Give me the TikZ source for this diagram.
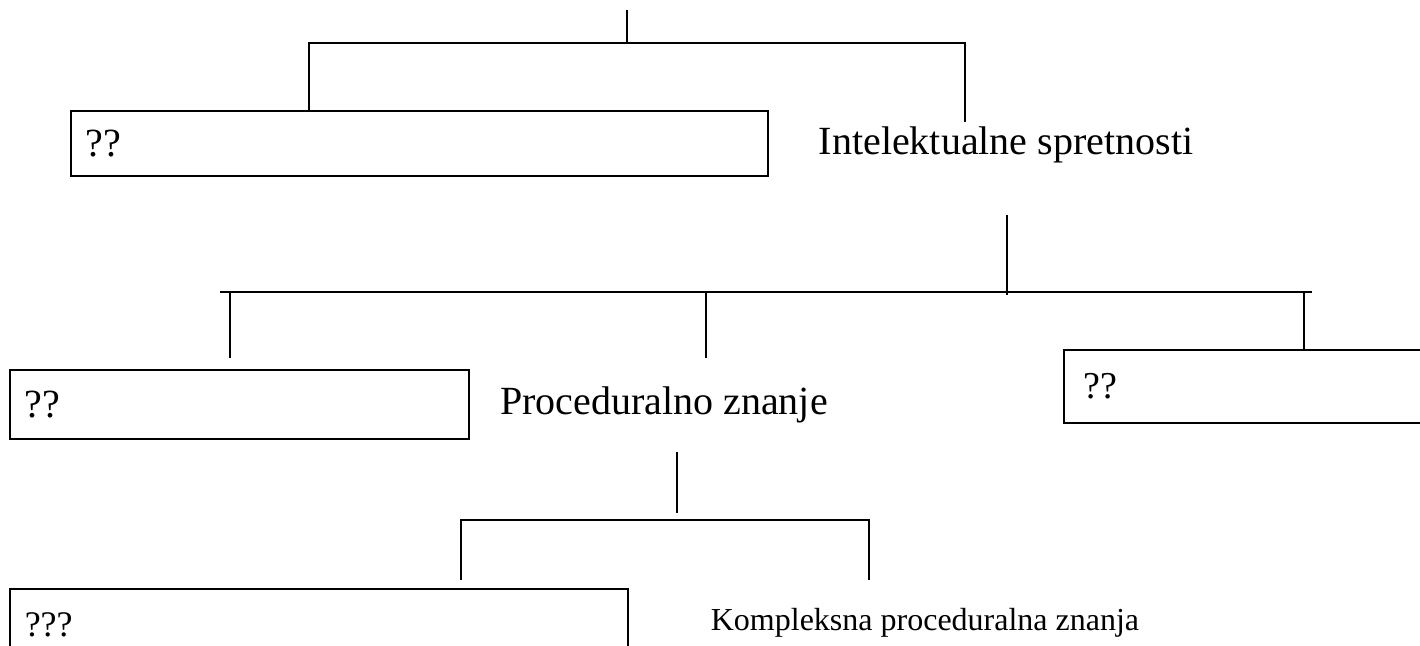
\documentclass[tikz,border=0pt]{standalone}
\usepackage{fontspec}
\setmainfont{Liberation Serif}
\usetikzlibrary{positioning}
\tikzset{
  qbox/.style={
    draw=black,
    line width=1.5pt,
    anchor=north west,
    inner xsep=15pt,
    inner ysep=0pt,
    align=left
  },
  lbl/.style={
    inner sep=0pt,
    anchor=center
  },
  conn/.style={
    line width=1.5pt
  }
}

\begin{document}
\begin{tikzpicture}[x=1pt,y=1pt]
\useasboundingbox (0,0) rectangle (1420,-645);
\clip (0,0) rectangle (1420,-645);

% level 1
\node[qbox, text width=667pt, minimum height=65pt, font=\fontsize{40}{44}\selectfont]
  (qa) at (70,-110) {??};
\node[lbl, font=\fontsize{40}{44}\selectfont] (intel) at (1006,-145) {Intelektualne spretnosti};

\coordinate (t1) at (627,-10);
\coordinate (b1l) at (309,-43);
\coordinate (b1r) at (965,-43);
\coordinate (e1r) at (965,-122);

\draw[conn] (t1) -- (t1 |- b1l);
\draw[conn] (qa.north -| b1l) -- (b1l) -- (b1r) -- (e1r);

% level 2
\node[qbox, text width=429pt, minimum height=69pt, inner xsep=15pt, font=\fontsize{40}{44}\selectfont]
  (qb) at (9,-369) {??};
\node[lbl, font=\fontsize{40}{44}\selectfont] (proc) at (664,-405) {Proceduralno znanje};
\node[qbox, text width=347pt, minimum height=73pt, inner xsep=20pt, font=\fontsize{38}{42}\selectfont]
  (qc) at (1063,-349) {??};

\coordinate (t2) at (1007,-215);
\coordinate (b2l) at (220,-292);
\coordinate (b2r) at (1312,-292);
\coordinate (d2a) at (230,-292);
\coordinate (d2b) at (706,-292);
\coordinate (d2c) at (1304,-292);

\draw[conn] (t2) -- ([yshift=-3pt]t2 |- b2l);
\draw[conn] (b2l) -- (b2r);
\draw[conn] (d2a) -- ++(0,-66);
\draw[conn] (d2b) -- ++(0,-66);
\draw[conn] (d2c) -- (d2c |- qc.north);

% level 3
\node[qbox, text width=588pt, minimum height=72pt, font=\fontsize{36}{40}\selectfont]
  (qd) at (9,-588) {???};
\node[lbl, font=\fontsize{32}{36}\selectfont] (komp) at (925,-623) {Kompleksna proceduralna znanja};

\coordinate (t3) at (677,-452);
\coordinate (b3l) at (461,-520);
\coordinate (b3r) at (869,-520);

\draw[conn] (t3) -- ([yshift=7pt]t3 |- b3l);
\draw[conn] ([yshift=-60pt]b3l) -- (b3l) -- (b3r) -- ++(0,-60);
\end{tikzpicture}
\end{document}
